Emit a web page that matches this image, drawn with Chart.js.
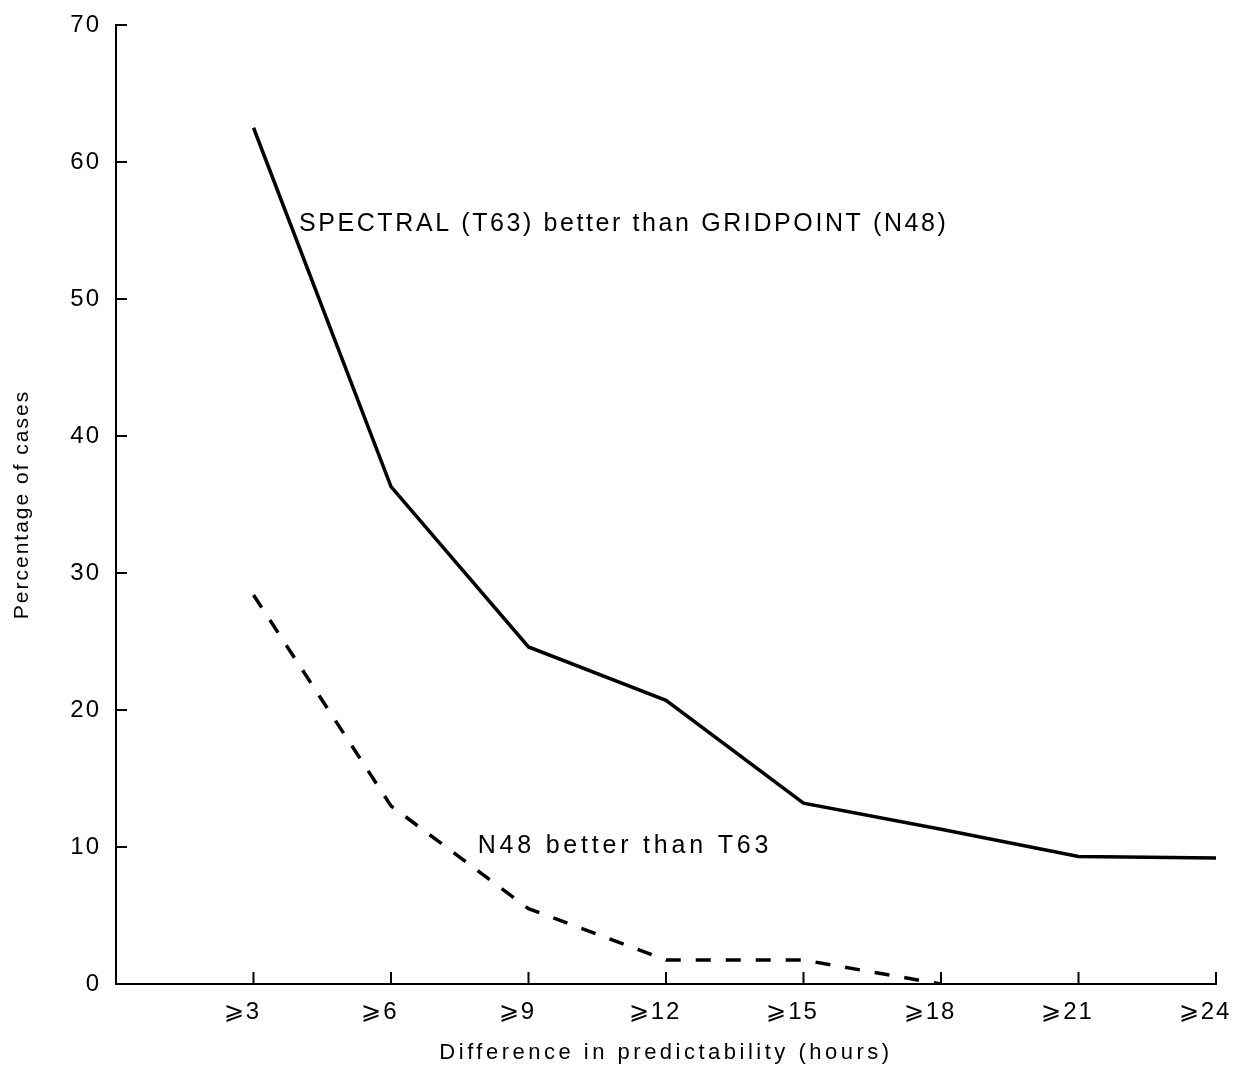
<!DOCTYPE html>
<html>
<head>
<meta charset="utf-8">
<script src="https://cdn.jsdelivr.net/npm/chart.js@4.4.0/dist/chart.umd.min.js"></script>
<style>
  html, body { margin: 0; padding: 0; background: #fff; }
  #wrap { width: 1233px; height: 1069px; }
</style>
</head>
<body>
<div id="wrap"><canvas id="chart" width="1233" height="1069"></canvas></div>
<script>
  // categories (first slot empty, at the y axis)
  const hours = ['', '⩾3', '⩾6', '⩾9', '⩾12', '⩾15', '⩾18', '⩾21', '⩾24'];
  // spectral T63 better than gridpoint N48 (%)
  const spectralBetter = [null, 62.5, 36.3, 24.6, 20.7, 13.2, 11.3, 9.3, 9.2];
  // N48 better than T63 (%)
  const gridpointBetter = [null, 28.4, 13.0, 5.5, 1.75, 1.75, 0, null, null];
  const yTicks = [0, 10, 20, 30, 40, 50, 60, 70];

  const FONT = '"Liberation Sans", Arial, sans-serif';

  // letter spacing for the tick labels (typewriter-ish look of the original)
  const spacing = {
    id: 'spacing',
    beforeDraw(chart) { chart.ctx.letterSpacing = '2px'; }
  };

  // small inward tick marks, axis titles and line labels
  const extras = {
    id: 'extras',
    afterDraw(chart) {
      const ctx = chart.ctx;
      const x = chart.scales.x, y = chart.scales.y;
      const area = chart.chartArea;
      ctx.save();
      ctx.strokeStyle = '#000';
      ctx.lineWidth = 2;
      yTicks.forEach(v => {
        const py = y.getPixelForValue(v);
        ctx.beginPath();
        ctx.moveTo(area.left, py);
        ctx.lineTo(area.left + 11, py);
        ctx.stroke();
      });
      hours.forEach((h, i) => {
        if (!h) return;
        const px = x.getPixelForValue(i);
        ctx.beginPath();
        ctx.moveTo(px, area.bottom);
        ctx.lineTo(px, area.bottom - 12);
        ctx.stroke();
      });

      ctx.fillStyle = '#000';
      ctx.textBaseline = 'middle';

      // line labels
      ctx.font = '25px ' + FONT;
      ctx.letterSpacing = '2.6px';
      ctx.textAlign = 'left';
      ctx.fillText('SPECTRAL (T63) better than GRIDPOINT (N48)',
        x.getPixelForValue(1.33), y.getPixelForValue(55.5));
      ctx.letterSpacing = '3.8px';
      ctx.fillText('N48 better than T63',
        x.getPixelForValue(2.63), y.getPixelForValue(10.1));

      // x title
      ctx.font = '22px ' + FONT;
      ctx.letterSpacing = '3.5px';
      ctx.textAlign = 'center';
      ctx.fillText('Difference in predictability (hours)', (area.left + area.right) / 2, 1053);

      // y title
      ctx.font = '21px ' + FONT;
      ctx.letterSpacing = '2px';
      ctx.translate(22, (area.top + area.bottom) / 2);
      ctx.rotate(-Math.PI / 2);
      ctx.fillText('Percentage of cases', 0, 0);
      ctx.restore();
    }
  };

  new Chart(document.getElementById('chart').getContext('2d'), {
    type: 'line',
    data: {
      labels: hours,
      datasets: [
        {
          label: 'SPECTRAL (T63) better than GRIDPOINT (N48)',
          data: spectralBetter,
          borderColor: '#000',
          borderWidth: 3.5,
          tension: 0,
          pointRadius: 0,
        },
        {
          label: 'N48 better than T63',
          data: gridpointBetter,
          borderColor: '#000',
          borderWidth: 3.5,
          borderDash: [15, 15],
          tension: 0,
          pointRadius: 0,
        },
      ],
    },
    options: {
      responsive: false,
      animation: false,
      layout: { padding: { top: 25, right: 17, left: 0, bottom: 0 } },
      plugins: {
        legend: { display: false },
        tooltip: { enabled: false },
      },
      scales: {
        x: {
          type: 'category',
          offset: false,
          grid: { display: false },
          border: { display: true, color: '#000', width: 2 },
          ticks: {
            color: '#000',
            font: { family: FONT, size: 24 },
            padding: 6,
            labelOffset: -11,
            maxRotation: 0,
            autoSkip: false,
          },
          afterFit(scale) {
            scale.height = 85;
            scale.paddingRight = 0;
          },
        },
        y: {
          min: 0,
          max: 70,
          grid: { display: false },
          border: { display: true, color: '#000', width: 2 },
          ticks: {
            stepSize: 10,
            color: '#000',
            font: { family: FONT, size: 24 },
            padding: 7,
          },
          afterFit(scale) { scale.width = 116; },
        },
      },
    },
    plugins: [spacing, extras],
  });
</script>
</body>
</html>
